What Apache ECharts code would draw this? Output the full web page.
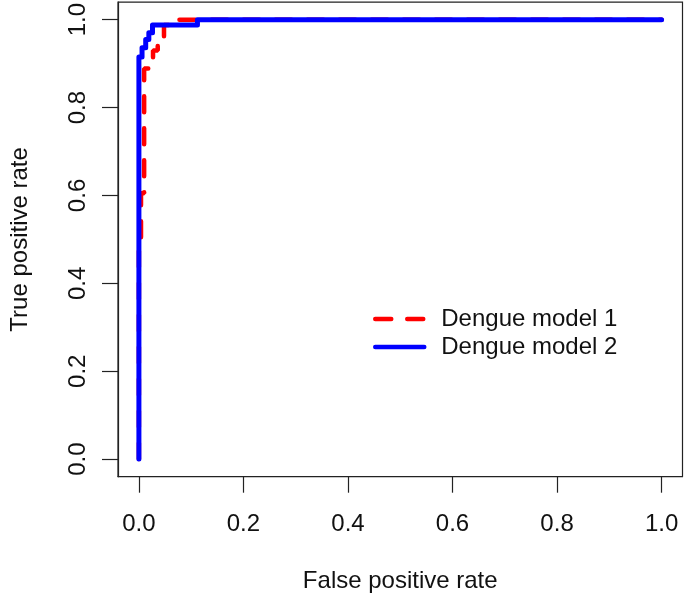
<!DOCTYPE html>
<html>
<head>
<meta charset="utf-8">
<script src="https://cdn.jsdelivr.net/npm/echarts@6/dist/echarts.min.js"></script>
<style>html,body{margin:0;padding:0;background:#fff;}#c{width:685px;height:599px;}</style>
</head>
<body>
<div id="c"></div>
<script>
// Tick labels
const tickValues = [0, 0.2, 0.4, 0.6, 0.8, 1.0];
// Model 1 ROC (false positive rate, true positive rate)
const model1FPR = [0, 0, 0.004, 0.004, 0.010, 0.010, 0.027, 0.027, 0.036, 0.036, 0.048, 0.048, 0.075, 0.075, 1.0];
const model1TPR = [0, 0.48, 0.48, 0.605, 0.605, 0.889, 0.889, 0.93, 0.93, 0.95, 0.95, 0.988, 0.988, 1.0, 1.0];
// Model 2 ROC
const model2FPR = [0, 0, 0.006, 0.006, 0.013, 0.013, 0.019, 0.019, 0.026, 0.026, 0.112, 0.112, 1.0];
const model2TPR = [0, 0.915, 0.915, 0.936, 0.936, 0.955, 0.955, 0.97, 0.97, 0.988, 0.988, 1.0, 1.0];
const seriesNames = ['Dengue model 1', 'Dengue model 2'];

const pairs = (xs, ys) => xs.map((x, i) => [x, ys[i]]);
const font = 'Liberation Sans, Arial, sans-serif';

const chart = echarts.init(document.getElementById('c'), null, {renderer: 'canvas'});
chart.setOption({
  animation: false,
  backgroundColor: '#fff',
  grid: {left: 117.5, top: 1.7, width: 565, height: 475, show: true, borderColor: '#222', borderWidth: 1.2, backgroundColor: 'transparent'},
  legend: {
    orient: 'vertical', left: 368, top: 302,
    itemWidth: 49, itemHeight: 14, itemGap: 4,
    itemStyle: {opacity: 0},
    lineStyle: {width: 4.5, cap: 'round'},
    textStyle: {fontFamily: font, fontSize: 24, color: '#111', padding: [0, 0, 0, 12]},
    data: seriesNames
  },
  xAxis: {
    type: 'value', min: -0.04, max: 1.04, position: 'bottom',
    name: 'False positive rate', nameLocation: 'middle', nameGap: 93,
    nameTextStyle: {fontFamily: font, fontSize: 24, color: '#111'},
    axisLine: {show: true, onZero: false, lineStyle: {color: '#222', width: 1.2}},
    axisTick: {show: true, inside: false, length: 16, customValues: tickValues, lineStyle: {color: '#222', width: 1.2}},
    axisLabel: {customValues: tickValues, inside: false, margin: 36, fontFamily: font, fontSize: 24, color: '#111', formatter: v => v.toFixed(1)},
    splitLine: {show: false}
  },
  yAxis: {
    type: 'value', min: -0.04, max: 1.04, position: 'left',
    name: 'True positive rate', nameLocation: 'middle', nameGap: 86,
    nameTextStyle: {fontFamily: font, fontSize: 24, color: '#111'},
    axisLine: {show: true, onZero: false, lineStyle: {color: '#222', width: 1.2}},
    axisTick: {show: true, inside: false, length: 16, customValues: tickValues, lineStyle: {color: '#222', width: 1.2}},
    axisLabel: {customValues: tickValues, inside: false, rotate: 90, margin: 28, fontFamily: font, fontSize: 24, color: '#111', formatter: v => v.toFixed(1)},
    splitLine: {show: false}
  },
  series: [
    {
      name: seriesNames[0], type: 'line', data: pairs(model1FPR, model1TPR),
      symbol: 'none', z: 2,
      lineStyle: {color: '#ff0000', width: 4.5, type: [16, 16], cap: 'round'},
      itemStyle: {color: '#ff0000'}
    },
    {
      name: seriesNames[1], type: 'line', data: pairs(model2FPR, model2TPR),
      symbol: 'none', z: 3,
      lineStyle: {color: '#0000ff', width: 5, cap: 'round', join: 'round'},
      itemStyle: {color: '#0000ff'}
    }
  ]
});
</script>
</body>
</html>
